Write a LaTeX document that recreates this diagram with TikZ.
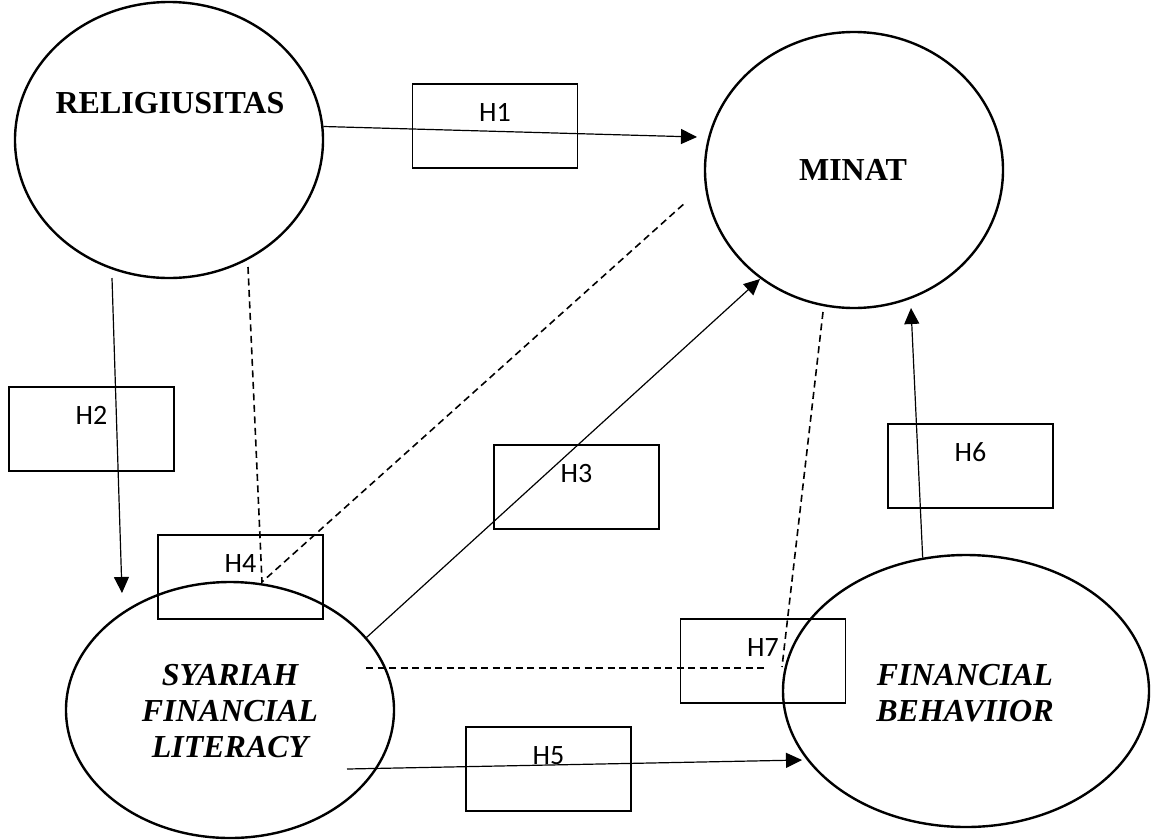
\documentclass[tikz,border=0pt]{standalone}
\usepackage{fontspec}
\setmainfont{Liberation Serif}
\newfontfamily\boxfont{Carlito}
\usetikzlibrary{shapes.geometric,arrows.meta}

\tikzset{
  var/.style={draw,ellipse,line width=2.4pt,inner sep=0pt},
  varname/.style={inner sep=0pt,align=center,font=\fontsize{32}{36}\selectfont\bfseries},
  hbox/.style={draw,rectangle,line width=1.6pt,inner sep=0pt,minimum width=165pt,
    text height=37pt,text depth=47pt,font=\boxfont\fontsize{28}{30}\selectfont},
  link/.style={line width=1.2pt,-{Triangle[length=16pt,width=15pt]}},
  dashlink/.style={line width=1.6pt,dash pattern=on 7pt off 4.5pt}
}

\begin{document}
\begin{tikzpicture}[x=1pt,y=-1pt]
\useasboundingbox (0,0) rectangle (1158,839);

% variables
\node[var,minimum width=308pt,minimum height=276pt] (rel) at (169,140) {};
\node[var,minimum width=298pt,minimum height=276pt] (minat) at (854,170) {};
\node[var,minimum width=328pt,minimum height=256pt] (sfl) at (230,710) {};
\node[var,minimum width=366pt,minimum height=272pt] (fb) at (966,691) {};

\node[varname] (rel-t) at (170,103) {RELIGIUSITAS};
\node[varname] (minat-t) at (853,170) {MINAT};
\node[varname,font=\fontsize{32}{36}\selectfont\bfseries\itshape] (sfl-t) at (230,711) {SYARIAH\\FINANCIAL\\LITERACY};
\node[varname,font=\fontsize{32}{36}\selectfont\bfseries\itshape] (fb-t) at (965,693) {FINANCIAL\\BEHAVIIOR};

% hypotheses
\node[hbox] (h1) at (495,126) {H1};
\node[hbox] (h2) at (91.5,429) {H2};
\node[hbox] (h3) at (576.5,487) {H3};
\node[hbox] (h4) at (240.5,577) {H4};
\node[hbox] (h5) at (548.5,769) {H5};
\node[hbox] (h6) at (970.5,466) {H6};
\node[hbox] (h7) at (763,661) {H7};

% connector ends
\coordinate (h1-end) at (697,137);
\coordinate (h2-start) at (112,278);
\coordinate (h2-end) at (122,593);
\coordinate (h3-end) at (760,279);
\coordinate (h4-start) at (248,267);
\coordinate (h4-turn) at (262,582);
\coordinate (h4-end) at (686,202);
\coordinate (h5-start) at (347,769);
\coordinate (h5-end) at (802,760);
\coordinate (h6-end) at (911,308);
\coordinate (h7-start) at (366,668);
\coordinate (h7-end) at (767,668);
\coordinate (h7-top) at (823,312);
\coordinate (h7-turn) at (782,667);

\draw[link] (rel.5) -- (h1-end);
\draw[link] (h2-start) -- (h2-end);
\draw[link] (sfl.28) -- (h3-end);
\draw[link] (h5-start) -- (h5-end);
\draw[link] (fb.108) -- (h6-end);

\draw[dashlink] (h4-start) -- (h4-turn) -- (h4-end);
\draw[dashlink] (h7-start) -- (h7-end);
\draw[dashlink] (h7-top) -- (h7-turn);

\end{tikzpicture}
\end{document}
